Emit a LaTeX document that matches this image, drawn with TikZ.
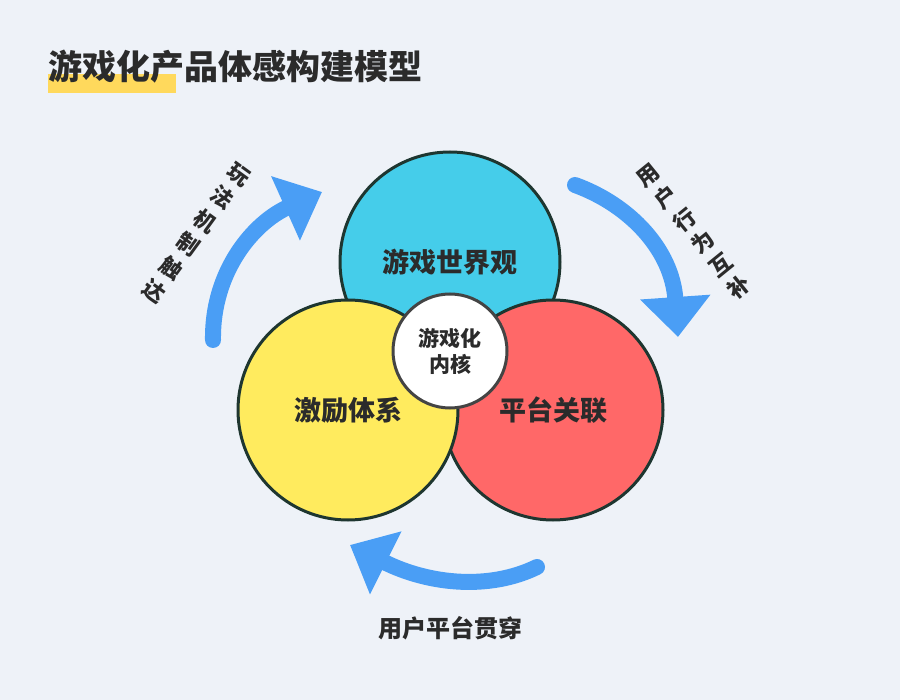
\documentclass[tikz,border=0pt]{standalone}
\usepackage{fontspec}
\newfontfamily\cjk{Noto Sans CJK SC}
\usetikzlibrary{arrows.meta}
\definecolor{bg}{HTML}{EEF2F8}
\definecolor{hl}{HTML}{FFD95C}
\definecolor{ink}{HTML}{2B2B2B}
\definecolor{edge}{HTML}{1E3630}
\definecolor{cyanc}{HTML}{45CDEA}
\definecolor{redc}{HTML}{FF6868}
\definecolor{yel}{HTML}{FFEB5E}
\definecolor{arrblue}{HTML}{4A9EF5}
\definecolor{coreedge}{HTML}{444444}
\tikzset{
  ring/.style={circle, draw=edge, line width=3pt, minimum size=220pt, inner sep=0pt,
    text=ink, font=\cjk\bfseries\fontsize{27}{30}\selectfont},
  arr/.style={draw=arrblue, line width=16pt, line cap=round,
    -{Triangle[length=40pt,width=68pt]}},
  sidelab/.style={text=ink, align=center, font=\cjk\bfseries\fontsize{22}{29}\selectfont, inner sep=0pt},
}
\begin{document}
\begin{tikzpicture}[x=1pt,y=-1pt]
\fill[bg] (0,0) rectangle (900,700);
\useasboundingbox (0,0) rectangle (900,700);
% title
\fill[hl] (48,74) rectangle (176,93);
\node[anchor=west, inner sep=0pt, text=ink, font=\cjk\bfseries\fontsize{34}{34}\selectfont] (title) at (48,67) {游戏化产品体感构建模型};
% circles
\node[ring, fill=cyanc] (world) at (450,262) {游戏世界观};
\node[ring, fill=redc] (plat) at (553,410) {平台关联};
\node[ring, fill=yel] (inc) at (348,410) {激励体系};
\node[circle, draw=coreedge, line width=3pt, fill=white, minimum size=114pt, inner sep=0pt,
  align=center, text=ink, font=\cjk\bfseries\fontsize{21}{26}\selectfont] (core) at (450,351) {游戏化\\内核};
% arrows
\coordinate (a1s) at (213,340);
\coordinate (a1e) at (322,192);
\draw[arr] (a1s) .. controls (212,270) and (255,222) .. (a1e);
\coordinate (a2s) at (575,185);
\coordinate (a2e) at (678,337);
\draw[arr] (a2s) .. controls (630,205) and (672,250) .. (a2e);
\coordinate (a3s) at (537,567);
\coordinate (a3e) at (350,545);
\draw[arr] (a3s) .. controls (490,590) and (430,585) .. (a3e);
% side labels
\node[sidelab, rotate=-36] (left) at (196,233.5) {玩\\法\\机\\制\\触\\达};
\node[sidelab, rotate=39] (right) at (694,231.5) {用\\户\\行\\为\\互\\补};
\node[text=ink, inner sep=0pt, font=\cjk\bfseries\fontsize{24}{24}\selectfont] (bot) at (450,628) {用户平台贯穿};
\end{tikzpicture}
\end{document}
